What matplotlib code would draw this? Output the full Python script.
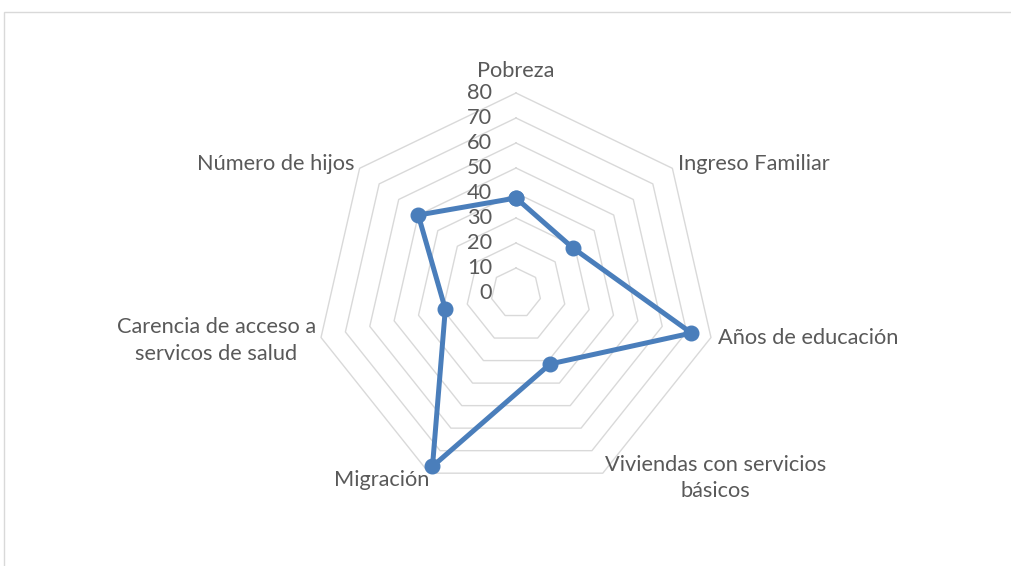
import numpy as np
import matplotlib
matplotlib.use("Agg")
import matplotlib.pyplot as plt
from matplotlib import transforms
from matplotlib.patches import Rectangle

categories = [
    "Pobreza",
    "Ingreso Familiar",
    "Años de educación",
    "Viviendas con servicios\nbásicos",
    "Migración",
    "Carencia de acceso a\nservicos de salud",
    "Número de hijos",
]
values = [38, 29, 72, 31.5, 77, 29, 50]
r_ticks = [0, 10, 20, 30, 40, 50, 60, 70, 80]
tick_labels = ["0", "10", "20", "30", "40", "50", "60", "70", "80"]

plt.rcParams["font.family"] = ["Lato", "DejaVu Sans"]
TEXT = "#595959"
GRID = "#D9D9D9"
LINE = "#4A7EBB"
FS = 15.7

W, H = 1011, 566
fig = plt.figure(figsize=(W / 100, H / 100), dpi=100)

# outer chart frame
fig.patches.append(Rectangle((4 / W, -0.1), 1.2, (566 - 12) / H + 0.1,
                             transform=fig.transFigure, fill=False,
                             edgecolor=GRID, linewidth=1.0))

cx, cy, R = 516, 293, 200
ax = fig.add_axes([(cx - R) / W, (H - cy - R) / H, 2 * R / W, 2 * R / H],
                  projection="polar")
ax.set_theta_zero_location("N")
ax.set_theta_direction(-1)
ax.set_ylim(0, r_ticks[-1])
ax.grid(False)
ax.spines["polar"].set_visible(False)
ax.set_xticks([])
ax.set_yticks([])
ax.patch.set_alpha(0)

n = len(categories)
angles = np.arange(n) * 2 * np.pi / n
closed = np.append(angles, angles[0])

# heptagonal gridlines
for level in r_ticks[1:]:
    ax.plot(closed, [level] * (n + 1), color=GRID, lw=1.0, zorder=1,
            clip_on=False)

# value labels left of the vertical axis
lab_tr = transforms.offset_copy(ax.transData, fig=fig, x=-24, y=0, units="dots")
for level, lab in zip(r_ticks, tick_labels):
    ax.text(0, level, lab, transform=lab_tr, ha="right", va="center",
            fontsize=FS, color=TEXT)

# data series
vals = np.append(values, values[0])
ax.plot(closed, vals, color=LINE, lw=3.6, marker="o", markersize=10.5,
        zorder=3, clip_on=False)

# category labels around the outer ring
label_cfg = [
    (0, 12, "center", "bottom"),
    (6, 4, "left", "center"),
    (7, 0, "left", "center"),
    (2, -5, "left", "center"),
    (0, -7, "right", "center"),
    (-5, -3, "right", "center"),
    (-5, 4, "right", "center"),
]
for ang, text, (dx, dy, ha, va) in zip(angles, categories, label_cfg):
    tr = transforms.offset_copy(ax.transData, fig=fig, x=dx, y=dy, units="dots")
    ax.text(ang, r_ticks[-1], text, transform=tr, ha=ha, va=va,
            multialignment="center", fontsize=FS, color=TEXT,
            linespacing=1.38)

fig.savefig("out.png", dpi=100)
